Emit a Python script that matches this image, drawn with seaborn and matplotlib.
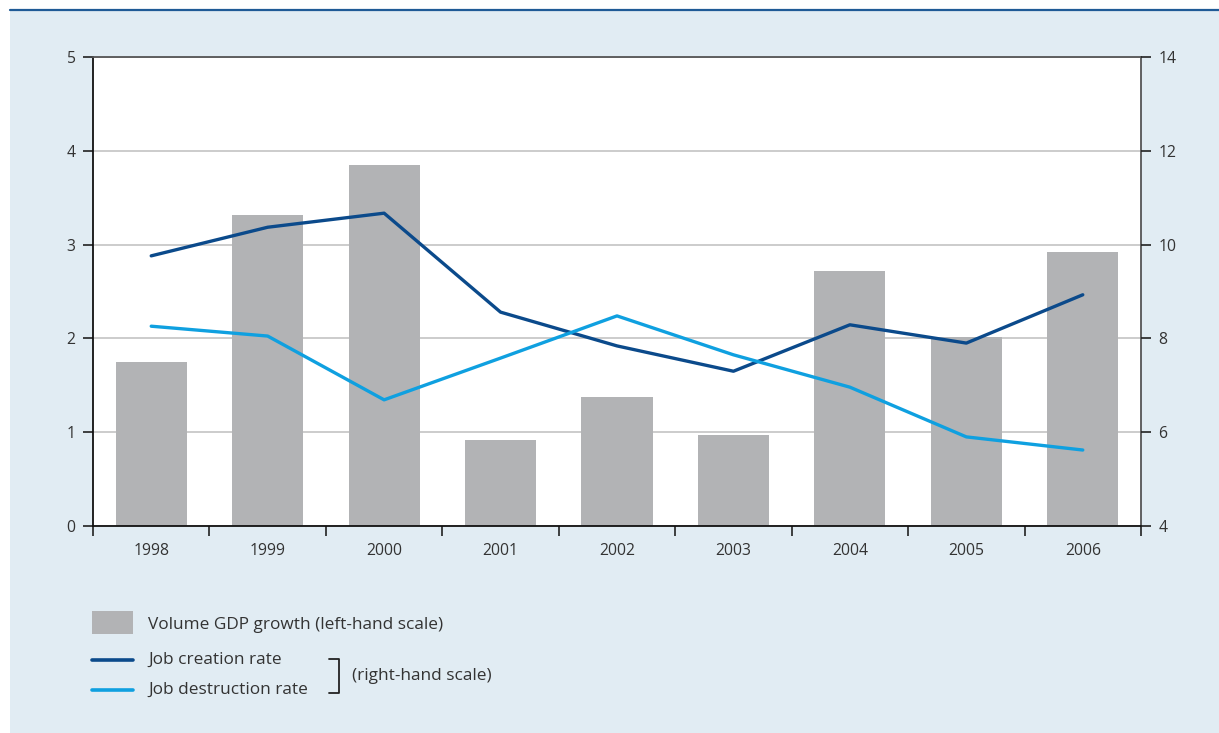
import matplotlib
matplotlib.use("Agg")
import matplotlib.pyplot as plt
import seaborn as sns
import pandas as pd
import numpy as np
from matplotlib.patches import Rectangle
from matplotlib.lines import Line2D

years = ["1998", "1999", "2000", "2001", "2002", "2003", "2004", "2005", "2006"]
gdp_growth = [1.75, 3.32, 3.85, 0.92, 1.37, 0.97, 2.72, 2.01, 2.92]
job_creation = [9.76, 10.37, 10.67, 8.56, 7.84, 7.30, 8.29, 7.90, 8.93]
job_destruction = [8.26, 8.05, 6.69, 7.58, 8.48, 7.65, 6.96, 5.90, 5.62]

bar_color = "#b2b3b5"
dark_blue = "#0b4a8b"
light_blue = "#0fa0e0"
panel_color = "#e1ecf3"
text_color = "#333333"

sns.set_style("white")
plt.rcParams["font.family"] = ["Open Sans", "DejaVu Sans"]

df = pd.DataFrame({
    "year": years,
    "gdp": gdp_growth,
    "creation": job_creation,
    "destruction": job_destruction,
})
df["pos"] = np.arange(len(years))

fig = plt.figure(figsize=(12.19, 7.33), dpi=100)
fig.patch.set_facecolor("white")

# light blue panel and top rule
fig.patches.append(Rectangle((10 / 1219, 0), 1, (733 - 10) / 733,
                             transform=fig.transFigure, facecolor=panel_color,
                             edgecolor="none", zorder=-10))
fig.lines.append(Line2D([10 / 1219, 1], [(733 - 10) / 733] * 2,
                        transform=fig.transFigure, color="#1f5a96", lw=1.6,
                        zorder=-5))

ax = fig.add_axes([93 / 1219, 1 - 526 / 733, (1141 - 93) / 1219, (526 - 57) / 733])
ax.set_facecolor("white")

sns.barplot(data=df, x="year", y="gdp", color=bar_color, width=0.61,
            saturation=1, linewidth=0, edgecolor="none", ax=ax, zorder=2)
ax.set_xlim(-0.5, len(years) - 0.5)
ax.set_ylim(0, 5)
ax.set_yticks(range(0, 6))
ax.yaxis.grid(True, color="#c4c4c4", lw=1.2, zorder=0)
ax.set_axisbelow(True)
ax.set_xlabel("")
ax.set_ylabel("")

tick_fs = 11.3

# x ticks at category boundaries
ax.set_xticks(np.arange(len(years)))
ax.set_xticklabels(years)
ax.set_xticks(np.arange(-0.5, len(years) + 0.5, 1), minor=True)
ax.tick_params(axis="x", which="major", bottom=True, length=0, pad=12,
               labelsize=tick_fs, labelcolor=text_color)
ax.tick_params(axis="x", which="minor", bottom=True, length=7.5, width=1.2,
               color="#222222", direction="out")
ax.tick_params(axis="y", which="major", left=True, length=7.5, width=1.2, color="#222222",
               direction="out", labelsize=tick_fs, labelcolor=text_color, pad=5)

for side, sp in ax.spines.items():
    sp.set_visible(True)
    sp.set_linewidth(1.3)
    sp.set_color("#111111")
ax.spines["top"].set_color("#555555")
ax.spines["right"].set_color("#555555")

ax2 = ax.twinx()
sns.lineplot(data=df, x="pos", y="creation", color=dark_blue, lw=2.4, ax=ax2,
             zorder=3)
sns.lineplot(data=df, x="pos", y="destruction", color=light_blue, lw=2.4, ax=ax2,
             zorder=3)
ax2.set_ylim(4, 14)
ax2.set_yticks(range(4, 15, 2))
ax2.set_xlim(-0.5, len(years) - 0.5)
ax2.set_ylabel("")
ax2.set_xlabel("")
ax2.tick_params(axis="y", right=True, length=7.5, width=1.2, color="#222222",
                direction="out", labelsize=tick_fs, labelcolor=text_color, pad=5)
for sp in ax2.spines.values():
    sp.set_visible(False)

# legend drawn in figure pixels
def fx(px):
    return px / 1219

def fy(py):
    return 1 - py / 733

fs = 12.4
fig.patches.append(Rectangle((fx(92), fy(634)), fx(133) - fx(92), fy(611) - fy(634),
                             transform=fig.transFigure, facecolor=bar_color,
                             edgecolor="none", zorder=2))
fig.text(fx(148), fy(625), "Volume GDP growth (left-hand scale)", fontsize=fs,
         color=text_color, va="center", ha="left")
fig.lines.append(Line2D([fx(92), fx(133)], [fy(660)] * 2, transform=fig.transFigure,
                        color=dark_blue, lw=2.6))
fig.text(fx(148), fy(660), "Job creation rate", fontsize=fs,
         color=text_color, va="center", ha="left")
fig.lines.append(Line2D([fx(92), fx(133)], [fy(690)] * 2, transform=fig.transFigure,
                        color=light_blue, lw=2.6))
fig.text(fx(148), fy(690), "Job destruction rate", fontsize=fs,
         color=text_color, va="center", ha="left")
fig.lines.append(Line2D([fx(329), fx(339), fx(339), fx(329)],
                        [fy(659), fy(659), fy(693), fy(693)],
                        transform=fig.transFigure, color="#222222", lw=1.3))
fig.text(fx(352), fy(676), "(right-hand scale)", fontsize=fs,
         color=text_color, va="center", ha="left")

fig.savefig("out.png", dpi=100, facecolor=fig.get_facecolor())
